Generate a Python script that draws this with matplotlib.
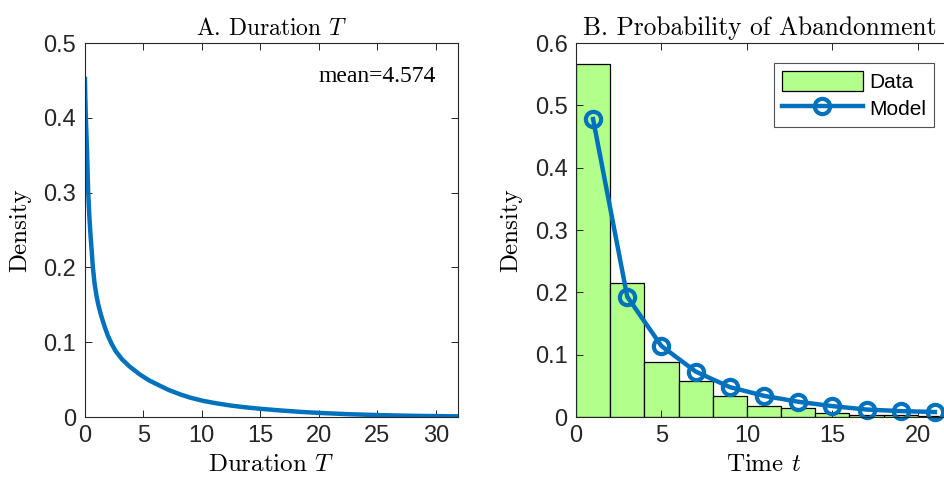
import matplotlib
matplotlib.use("Agg")
import matplotlib.pyplot as plt

plt.rcParams["mathtext.fontset"] = "cm"
plt.rcParams["font.family"] = ["Liberation Sans", "DejaVu Sans"]

# Panel A: density of duration T
dur_t = [0.02, 0.05, 0.1, 0.2, 0.3, 0.4, 0.5, 0.6, 0.7, 0.85, 1.0, 1.15,
         1.4, 1.7, 2.0, 2.3, 2.65, 3.2, 3.8, 4.7, 5.5, 6.4, 7.2, 8.2, 9.0,
         10.0, 11.0, 12.4, 13.7, 15.0, 16.7, 18.5, 20.0, 22.5, 25.0, 28.0,
         31.9]
dur_dens = [0.455, 0.43, 0.40, 0.356, 0.30, 0.268, 0.243, 0.222, 0.2,
            0.178, 0.163, 0.151, 0.136, 0.121, 0.108, 0.098, 0.088, 0.077,
            0.068, 0.057, 0.049, 0.042, 0.036, 0.030, 0.026, 0.022, 0.019,
            0.0155, 0.013, 0.011, 0.0088, 0.0068, 0.0055, 0.0038, 0.0026,
            0.0016, 0.0009]
mean_T = 4.574

# Panel B: histogram of abandonment times (bin edges every 2) and model
bin_left = [0, 2, 4, 6, 8, 10, 12, 14, 16, 18, 20]
data_dens = [0.566, 0.215, 0.089, 0.057, 0.033, 0.018, 0.014, 0.0064,
             0.0037, 0.003, 0.002]
model_t = [1, 3, 5, 7, 9, 11, 13, 15, 17, 19, 21]
model_dens = [0.478, 0.193, 0.114, 0.073, 0.048, 0.034, 0.0245, 0.0175,
              0.012, 0.0095, 0.008]

blue = "#0072BD"
green = "#B3FF8C"
axcol = "#262626"
cm = "cmr10"

fig = plt.figure(figsize=(9.45, 4.83), dpi=100)
axA = fig.add_axes([0.0896, 0.1366, 0.3953, 0.7743])
axB = fig.add_axes([0.6095, 0.1366, 0.3979, 0.7743])


def style(ax):
    ax.tick_params(direction="in", top=True, right=True, labelsize=17,
                   color=axcol, labelcolor=axcol, length=5, width=0.7,
                   pad=6)
    for s in ax.spines.values():
        s.set_color(axcol)
        s.set_linewidth(0.8)


axA.plot(dur_t, dur_dens, color=blue, lw=3.2, solid_capstyle="butt")
axA.set_xlim(0, 31.9)
axA.set_ylim(0, 0.5)
axA.set_xticks([0, 5, 10, 15, 20, 25, 30])
axA.set_yticks([0, 0.1, 0.2, 0.3, 0.4, 0.5])
axA.set_yticklabels(["0", "0.1", "0.2", "0.3", "0.4", "0.5"])
axA.text(20, 0.455, "mean=%.3f" % mean_T, family="Liberation Serif",
         fontsize=17, va="center", ha="left")
axA.set_title("A. Duration $T$", family=cm, fontsize=17, pad=6)
axA.set_xlabel("Duration $T$", family=cm, fontsize=18, labelpad=5)
axA.set_ylabel("Density", family=cm, fontsize=18, labelpad=9)
style(axA)

bars = axB.bar(bin_left, data_dens, width=2, align="edge", color=green,
               edgecolor="black", linewidth=0.9)
line, = axB.plot(model_t, model_dens, color=blue, lw=3.2, marker="o",
                 markersize=11, markerfacecolor="none", markeredgewidth=3,
                 clip_on=False)
axB.set_xlim(0, 22)
axB.set_ylim(0, 0.6)
axB.set_xticks([0, 5, 10, 15, 20])
axB.set_yticks([0, 0.1, 0.2, 0.3, 0.4, 0.5, 0.6])
axB.set_yticklabels(["0", "0.1", "0.2", "0.3", "0.4", "0.5", "0.6"])
axB.set_title("B. Probability of Abandonment", family=cm, fontsize=18.3,
              pad=5.5, x=0.49)
axB.set_xlabel("Time $t$", family=cm, fontsize=18, labelpad=5)
axB.set_ylabel("Density", family=cm, fontsize=18, labelpad=9)
leg = axB.legend([bars, line], ["Data", "Model"], loc="upper left",
                 bbox_to_anchor=(774 / 945, 1 - 63 / 483),
                 bbox_transform=fig.transFigure, fontsize=15, frameon=True,
                 fancybox=False, edgecolor=axcol, handlelength=3.85,
                 handleheight=1.1, borderpad=0.4, labelspacing=0.25,
                 handletextpad=0.3, borderaxespad=0)
leg.get_frame().set_linewidth(0.8)
style(axB)

fig.savefig("out.png", dpi=100)
